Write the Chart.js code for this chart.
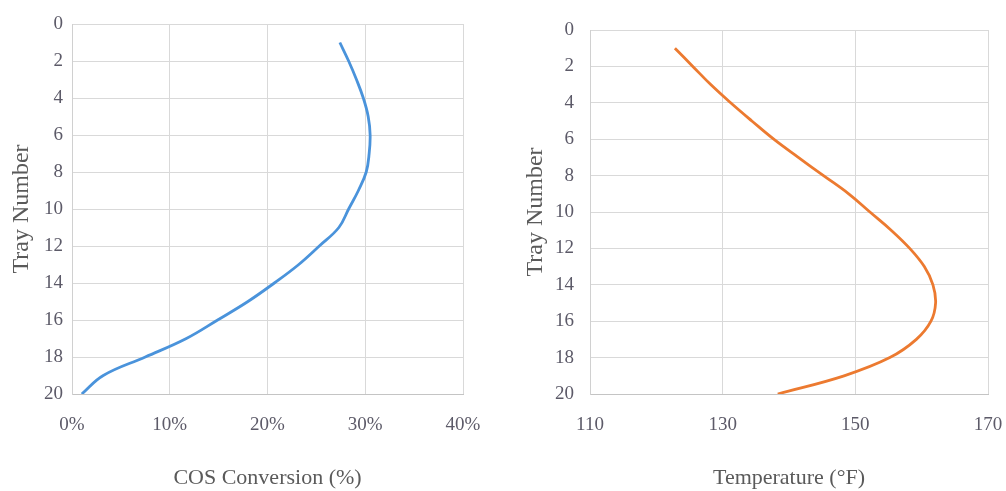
<!DOCTYPE html>
<html>
<head>
<meta charset="utf-8">
<script src="https://cdn.jsdelivr.net/npm/chart.js@4/dist/chart.umd.min.js"></script>
<style>
  html, body { margin: 0; padding: 0; background: #ffffff; }
  body { width: 1006px; height: 491px; position: relative; overflow: hidden; }
  canvas { position: absolute; top: 0; }
  #cosChart { left: 0; }
  #tempChart { left: 500px; }
</style>
</head>
<body>
<canvas id="cosChart" width="500" height="491"></canvas>
<canvas id="tempChart" width="506" height="491"></canvas>
<script>
// Tray profile of the column: tray 1 at the top, tray 20 at the bottom
const trays = [1, 2, 3, 4, 5, 6, 7, 8, 9, 10, 11, 12, 13, 14, 15, 16, 17, 18, 19, 20];

// COS conversion on each tray (%)
const cosConversion = [27.4, 28.3, 29.1, 29.8, 30.3, 30.5, 30.4, 30.1, 29.3, 28.3,
                       27.3, 25.3, 23.2, 20.7, 18.0, 14.9, 11.7, 7.5, 3.2, 1.0];

// Tray temperature (°F)
const temperature = [122.8, 125.5, 128.2, 131.2, 134.4, 137.7, 141.4, 145.2, 149.0, 152.2,
                     155.4, 158.2, 160.4, 161.7, 162.1, 161.4, 159.2, 155.2, 148.3, 138.3];

// Axis ranges and tick spacing
const trayTicks = { min: 0, max: 20, step: 2 };
const cosTicks = { min: 0, max: 40, step: 10 };
const tempTicks = { min: 110, max: 170, step: 20 };

const yTitle = 'Tray Number';
const cosTitle = 'COS Conversion (%)';
const tempTitle = 'Temperature (°F)';

const SERIF = '"Liberation Serif", "Times New Roman", serif';
const TICK_COLOR = '#5c5a68';
const TITLE_COLOR = '#5a5a5a';
const GRID_COLOR = '#d9d9d9';

function points(xs, ys) {
  return xs.map((x, i) => ({ x: x, y: ys[i] }));
}

function makeChart(canvasId, values, color, xRange, xTitle, xFormat, geom) {
  return new Chart(document.getElementById(canvasId), {
    type: 'scatter',
    data: {
      datasets: [{
        data: points(values, trays),
        showLine: true,
        borderColor: color,
        backgroundColor: color,
        borderWidth: 2.8,
        pointRadius: 0,
        pointHoverRadius: 0,
        tension: 0.4,
        fill: false
      }]
    },
    options: {
      responsive: false,
      animation: false,
      devicePixelRatio: 1,
      layout: { padding: { top: geom.top, right: geom.right, bottom: 0, left: 0 } },
      plugins: { legend: { display: false }, tooltip: { enabled: false } },
      scales: {
        x: {
          type: 'linear',
          position: 'bottom',
          min: xRange.min,
          max: xRange.max,
          ticks: {
            stepSize: xRange.step,
            color: TICK_COLOR,
            font: { family: SERIF, size: 19 },
            padding: 20,
            maxRotation: 0,
            callback: xFormat
          },
          grid: { color: GRID_COLOR, lineWidth: 1, drawTicks: false },
          border: { color: '#c4c4c4', width: 1 },
          title: {
            display: true,
            text: xTitle,
            color: TITLE_COLOR,
            font: { family: SERIF, size: 22 },
            padding: { top: 0, bottom: 0 }
          },
          // fixed axis band height; edge labels may overhang the plot frame
          afterFit: (scale) => {
            scale.height = 491 - geom.bottom;
            scale.paddingLeft = 0;
            scale.paddingRight = 0;
          }
        },
        y: {
          type: 'linear',
          position: 'left',
          reverse: true,
          min: trayTicks.min,
          max: trayTicks.max,
          ticks: {
            stepSize: trayTicks.step,
            color: TICK_COLOR,
            font: { family: SERIF, size: 19 },
            padding: geom.yTickPad
          },
          grid: { color: GRID_COLOR, lineWidth: 1, drawTicks: false },
          border: { color: '#d0d0d0', width: 1 },
          title: {
            display: true,
            text: yTitle,
            color: TITLE_COLOR,
            font: { family: SERIF, size: 24 },
            padding: { top: geom.yTitlePad, bottom: 0 }
          },
          afterFit: (scale) => {
            scale.width = geom.left;
            scale.paddingTop = 0;
            scale.paddingBottom = 0;
          }
        }
      }
    }
  });
}

makeChart('cosChart', cosConversion, '#4a93db', cosTicks, cosTitle,
  (v) => v + '%',
  { left: 72, top: 24, right: 37, bottom: 394, yTickPad: 9, yTitlePad: 7 });

makeChart('tempChart', temperature, '#ec7a30', tempTicks, tempTitle,
  (v) => String(v),
  { left: 90, top: 30, right: 18, bottom: 394, yTickPad: 16, yTitlePad: 21 });
</script>
</body>
</html>
